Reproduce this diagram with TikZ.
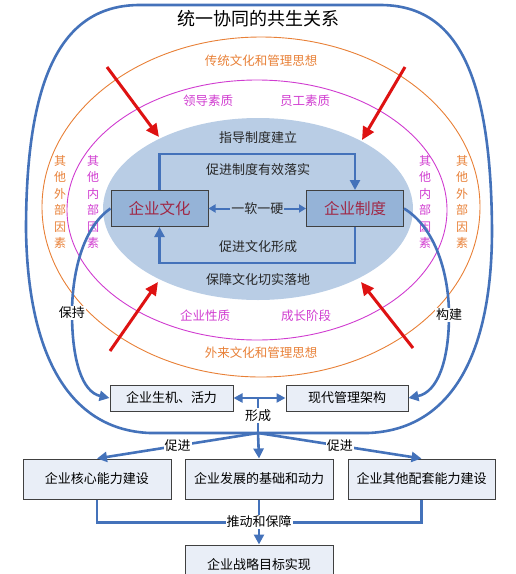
\documentclass[tikz,border=0pt]{standalone}
\usepackage{fontspec}
\setmainfont{Noto Sans CJK SC}
\usetikzlibrary{arrows.meta}

\definecolor{linkblue}{RGB}{68,114,186}
\definecolor{coreblue}{RGB}{185,205,229}
\definecolor{boxblue}{RGB}{149,179,215}
\definecolor{paleblue}{RGB}{233,238,247}
\definecolor{ringorange}{RGB}{232,128,55}
\definecolor{ringpink}{RGB}{208,60,208}
\definecolor{redtext}{RGB}{160,40,70}
\definecolor{arrowred}{RGB}{222,18,18}

\tikzset{
	corebox/.style={draw=black!75, fill=boxblue, line width=1pt, minimum width=97pt, minimum height=36pt, text=redtext, font=\fontsize{15.5}{17}\selectfont},
	lowbox/.style={draw=black!75, fill=paleblue, line width=1pt, minimum width=148pt, minimum height=40pt, font=\fontsize{13}{15}\selectfont},
	link/.style={draw=linkblue, line width=2.6pt, -{Triangle[length=10pt,width=10pt]}},
	twolink/.style={draw=linkblue, line width=2.6pt, {Triangle[length=9pt,width=9pt]}-{Triangle[length=9pt,width=9pt]}},
	plainlink/.style={draw=linkblue, line width=2.6pt},
	tag/.style={fill=white, inner sep=1pt, font=\fontsize{13}{15}\selectfont},
	coretext/.style={font=\fontsize{13}{15}\selectfont, text=black!85},
	ringtext/.style={font=\fontsize{12.5}{14}\selectfont},
	redarrow/.style={draw=arrowred, line width=3pt, -{Triangle[length=13pt,width=12pt]}}
}

\begin{document}
\begin{tikzpicture}[x=1pt, y=-1pt]
	\useasboundingbox (0,0) rectangle (515,574);
	\coordinate (hub) at (258,433);
	\coordinate (mid) at (258,398);
	% outer shape
	\draw[plainlink] (hub) -- (150,433) .. controls (72,430) and (28,360) .. (26,230)
		.. controls (26,70) and (65,5) .. (140,5) -- (380,5)
		.. controls (455,5) and (491,70) .. (492,230)
		.. controls (492,360) and (448,430) .. (368,433) -- (hub);
	\node[font=\fontsize{18}{20}\selectfont] (title) at (258,19) {统一协同的共生关系};
	% rings
	\draw[ringorange, line width=0.9pt] (261,207) ellipse [x radius=219, y radius=170];
	\draw[ringpink, line width=0.9pt] (257,210) ellipse [x radius=190, y radius=130];
	\fill[coreblue] (258,209) ellipse [x radius=155, y radius=91];
	\node[ringtext, text=ringorange] (trad) at (261,61) {传统文化和管理思想};
	\node[ringtext, text=ringorange] (forn) at (261,353) {外来文化和管理思想};
	\node[ringtext, text=ringpink] (lead) at (208,101) {领导素质};
	\node[ringtext, text=ringpink] (staff) at (305,101) {员工素质};
	\node[ringtext, text=ringpink] (nature) at (205,316) {企业性质};
	\node[ringtext, text=ringpink] (stage) at (306,316) {成长阶段};
	\foreach \x/\c/\t in {60/ringorange/外,462/ringorange/外,93/ringpink/内,425/ringpink/内}{
		\node[align=center, text=\c, font=\fontsize{12}{16.4}\selectfont] (side\x) at (\x,202) {其\\他\\\t\\部\\因\\素};
	}
	\foreach \xa/\ya/\xb/\yb in {107/67/159/137,405/67/362/140,110/351/158/282,413/348/361/282}{
		\draw[redarrow] (\xa,\ya) -- (\xb,\yb);
	}
	% core
	\node[corebox] (wenhua) at (159.5,208.5) {企业文化};
	\node[corebox] (zhidu) at (355,208.5) {企业制度};
	\node[coretext] (guide) at (258,138) {指导制度建立};
	\node[coretext] (promo) at (258,170) {促进制度有效落实};
	\node[coretext] (form) at (258,247) {促进文化形成};
	\node[coretext] (secure) at (258,280) {保障文化切实落地};
	\draw[link] (wenhua.north) -- ++(0,-36) -| (zhidu.north);
	\draw[link] (zhidu.south) -- ++(0,36) -| (wenhua.south);
	\draw[draw=linkblue, line width=2pt, {Triangle[length=7pt,width=8pt]}-{Triangle[length=7pt,width=8pt]}] (wenhua.east) -- node[fill=coreblue, inner sep=1pt, coretext]{一软一硬} (zhidu.west);
	% lower part
	\node[lowbox, minimum width=123pt, minimum height=26pt] (shengji) at (171.5,398) {企业生机、活力};
	\node[lowbox, minimum width=122pt, minimum height=26pt] (jiagou) at (347,398) {现代管理架构};
	\node[lowbox] (hexin) at (97,479) {企业核心能力建设};
	\node[lowbox] (jichu) at (259,479) {企业发展的基础和动力};
	\node[lowbox, minimum width=147pt] (peitao) at (421.5,479) {企业其他配套能力建设};
	\node[lowbox] (mubiao) at (259,565) {企业战略目标实现};
	\draw[link] (wenhua.west) .. controls (82,228) and (72,275) .. (72,313) node[tag]{保持}
		.. controls (72,360) and (82,392) .. (shengji.west);
	\draw[link] (zhidu.east) .. controls (436,228) and (449,275) .. (449,315) node[tag]{构建}
		.. controls (449,360) and (438,392) .. (jiagou.east);
	\draw[twolink] (shengji.east) -- (jiagou.west);
	\draw[plainlink] (mid) -- node[tag]{形成} (hub);
	\draw[link] (hub) -- node[tag]{促进} (hexin.north);
	\draw[link] (hub) -- node[tag]{促进} (peitao.north);
	\draw[link] (hub) -- (jichu.north);
	\draw[plainlink] (hexin.south) -- ++(0,23) -| (peitao.south);
	\draw[link] (jichu.south) -- node[tag]{推动和保障} (mubiao.north);
\end{tikzpicture}
\end{document}
